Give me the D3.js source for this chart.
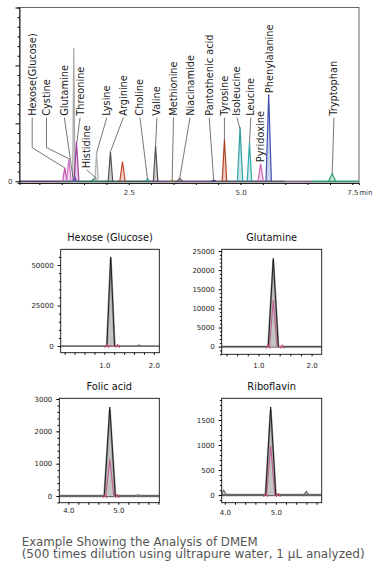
<!DOCTYPE html>
<html><head><meta charset="utf-8">
<script src="https://cdn.jsdelivr.net/npm/d3@7"></script>
<style>body{margin:0;background:#fff}svg{display:block}text{font-family:"DejaVu Sans",Verdana,sans-serif}</style>
</head><body>
<svg id="c" width="381" height="565"></svg>
<script>
// ---------- main chromatogram data ----------
const peakRT     = [1.07,1.16,1.27,1.29,1.33,1.73,1.78,2.09,2.36,2.92,3.10,3.47,3.64,4.40,4.64,4.99,5.20,5.45,5.63,7.05];
const peakHeight = [0.23,0.39,2.30,0.08,0.68,0.05,0.49,0.51,0.34,0.04,0.61,0.02,0.05,0.02,0.72,0.93,0.67,0.30,1.50,0.13];
const peakHalfW  = [0.05,0.05,0.025,0.04,0.055,0.06,0.04,0.05,0.06,0.05,0.05,0.05,0.06,0.05,0.05,0.06,0.05,0.06,0.06,0.08];
const peakColor  = ["#c050b0","#d070c8","#a8a8a8","#4050c0","#a040a0","#2a8a60","#b0b0b0","#505050","#c04830","#40a0a0",
                    "#505050","#a0a040","#606060","#404080","#b04020","#30a0a0","#30a8a8","#d060b0","#4050b0","#30a070"];
const compounds  = ["Hexose(Glucose)","Cystine","Glutamine","Threonine","Histidine","Lysine","Arginine","Choline","Valine",
                    "Methionine","Niacinamide","Pantothenic acid","Tyrosine","Isoleucine","Leucine","Pyridoxine","Phenylalanine","Tryptophan"];
// label anchor (time), label bottom (signal), elbow (signal or null), leader target [time, signal] or null
const labelT      = [0.34,0.66,1.06,1.41,1.56,2.01,2.38,2.75,3.13,3.50,3.87,4.30,4.64,4.92,5.23,5.45,5.64,7.09];
const labelBottom = [1.13,1.13,1.13,1.13,0.225,1.13,1.13,1.13,1.13,1.13,1.13,1.13,1.13,1.13,1.13,0.33,1.52,1.13];
const labelElbow  = [0.58,0.58,null,null,null,null,null,null,null,null,null,null,null,null,null,null,null,null];
const labelTarget = [[1.07,0.23],[1.16,0.39],[1.25,0.07],[1.34,0.67],[1.78,0.05],[1.78,0.49],[2.09,0.51],[2.92,0.04],[3.10,0.61],
                     [3.47,0.0],[3.64,0.05],[4.40,0.02],[4.64,0.70],[4.99,0.90],[5.20,0.66],null,null,[7.05,0.13]];
const baseStart = [0.056,1.0,2.2,3.0,4.5,6.0,6.6];
const baseColor = ["#5a3a6a","#2a6a58","#3a5a50","#6a4a7a","#505868","#7a5a80","#30a070"];
const xMajorLabels = [2.5,5.0,7.5];

// ---------- small panels data ----------
const panelTitles = ["Hexose (Glucose)","Glutamine","Folic acid","Riboflavin"];
const panelXDomain = [[0.12,2.11],[0.31,2.19],[3.82,5.82],[3.94,5.90]];
const panelYDomain = [[-4100,59700],[-2000,25450],[-207,3022],[-154,1934]];
const panelYTicks  = [[0,25000,50000],[0,5000,10000,15000,20000,25000],[0,1000,2000,3000],[0,500,1000,1500]];
const panelYMinor  = [5000,1000,200,100];
const panelXTicks  = [[1.0,2.0],[1.0,2.0],[4.0,5.0],[4.0,5.0]];
const panelRT      = [1.13,1.28,4.83,4.90];
const panelBlack   = [55000,23100,2750,1760];
const panelGray    = [53500,22400,2650,1700];
const panelPink    = [300,12200,1150,980];
const panelHW      = [0.078,0.095,0.11,0.10];
const panelPinkHW  = [0.06,0.07,0.08,0.08];
const panelMarks   = [[1.05,1.27],[1.18,1.45],[4.73,4.98],[4.80,5.05]];
const panelBumps   = [[[1.70,700]],[],[[5.40,30]],[[3.98,90],[5.60,70]]];

// ---------- layout ----------
const svg = d3.select("#c");
const x = d3.scaleLinear().domain([0.056,7.65]).range([19.5,359]);
const y = d3.scaleLinear().domain([-0.03,3.0]).range([183,7.5]);

const main = svg.append("g");
main.append("rect").attr("x",19.5).attr("y",7.5).attr("width",339.5).attr("height",175.5)
  .attr("fill","none").attr("stroke","#444").attr("stroke-width",0.8);

const line = d3.line().x(d=>x(d[0])).y(d=>y(d[1]));
// baseline
baseStart.forEach((s,i)=>{
  const e = i<baseStart.length-1 ? baseStart[i+1] : 7.65;
  main.append("path").attr("d",line([[s,0],[e,0]])).attr("stroke",baseColor[i]).attr("stroke-width",1.3).attr("fill","none");
});
// peaks
peakRT.forEach((rt,i)=>{
  main.append("path").attr("d",line([[rt-peakHalfW[i],0],[rt,peakHeight[i]],[rt+peakHalfW[i],0]]))
    .attr("stroke",peakColor[i]).attr("stroke-width",1.2).attr("fill",peakColor[i]).attr("fill-opacity",0.25)
    .attr("stroke-linejoin","miter");
});
// axes
const xa = main.append("g").attr("transform","translate(0,183)")
  .call(d3.axisBottom(x).tickValues(d3.range(1,16).map(k=>k*0.5)).tickSize(2).tickPadding(5)
    .tickFormat(d=> xMajorLabels.some(v=>Math.abs(v-d)<1e-6) ? d.toFixed(1) : ""));
xa.select(".domain").attr("stroke","#222");
xa.selectAll("text").attr("font-size",7).attr("fill","#333");
main.append("text").attr("x",x(7.5)+7).attr("y",183+7).attr("dy","0.71em").attr("font-size",7).attr("fill","#333").text("min");

const ya = main.append("g").attr("transform","translate(19.5,0)")
  .call(d3.axisLeft(y).tickValues(d3.range(0,19).map(k=>k/6)).tickSize(2).tickPadding(5)
    .tickFormat(d=> d===0 ? "0" : ""));
ya.select(".domain").attr("stroke","#222");
ya.selectAll(".tick line").attr("x2",(d,i)=> i%6===0 ? -4 : -2);
ya.selectAll("text").attr("font-size",7).attr("fill","#333");

// labels and leaders
compounds.forEach((name,i)=>{
  const lx = x(labelT[i]), ly = y(labelBottom[i]);
  main.append("text").attr("transform",`translate(${lx},${ly}) rotate(-90)`).attr("dy","0.36em")
    .attr("font-size",9.8).attr("fill","#1a1a1a").text(name);
  if(labelTarget[i]){
    const pts = [[labelT[i],labelBottom[i]-0.03]];
    if(labelElbow[i]!==null) pts.push([labelT[i],labelElbow[i]]);
    pts.push(labelTarget[i]);
    main.append("path").attr("d",line(pts)).attr("fill","none").attr("stroke","#555").attr("stroke-width",0.8);
  }
});

// ---------- small panels ----------
const panelBox = [[60.7,249.3,159.3,352.7],[221.7,249.3,321.7,354.3],[59.3,398.3,159.3,502.7],[221.7,398.3,321.7,502.7]];
const panelLabPad = [8,7,3,5];
const panelBaseW = [1.2,2,2.6,2.6];
panelTitles.forEach((title,p)=>{
  const [x0,y0,x1,y1] = panelBox[p];
  const g = svg.append("g");
  const px = d3.scaleLinear().domain(panelXDomain[p]).range([x0,x1]);
  const py = d3.scaleLinear().domain(panelYDomain[p]).range([y1,y0]);
  const pl = d3.line().x(d=>px(d[0])).y(d=>py(d[1]));
  const clipId = "clip"+p;
  g.append("clipPath").attr("id",clipId).append("rect").attr("x",x0).attr("y",y0).attr("width",x1-x0).attr("height",y1-y0);
  const plot = g.append("g").attr("clip-path",`url(#${clipId})`);
  const [xd0,xd1] = panelXDomain[p];
  // baseline
  plot.append("path").attr("d",pl([[xd0,0],[xd1,0]])).attr("stroke","#8a8a8a").attr("stroke-width",panelBaseW[p]).attr("fill","none");
  plot.append("path").attr("d",pl([[xd0,0],[xd1,0]])).attr("stroke","#222").attr("stroke-width",0.7).attr("fill","none");
  panelBumps[p].forEach(b=>{
    plot.append("path").attr("d",pl([[b[0]-0.05,0],[b[0],b[1]],[b[0]+0.05,0]])).attr("stroke","#777").attr("stroke-width",1.4).attr("fill","none");
  });
  const rt = panelRT[p];
  // gray thick
  plot.append("path").attr("d",pl([[rt-panelHW[p],0],[rt,panelGray[p]],[rt+panelHW[p],0]]))
    .attr("stroke","#999").attr("stroke-width",2.2).attr("fill","#c4c4c4").attr("stroke-linejoin","round");
  // pink
  const [m0,m1] = panelMarks[p];
  plot.append("path").attr("d",pl([[m0,0],[rt-panelPinkHW[p],0],[rt,panelPink[p]],[rt+panelPinkHW[p],0],[m1,0]]))
    .attr("stroke","#c06090").attr("stroke-width",1.1).attr("fill","none");
  // black
  plot.append("path").attr("d",pl([[rt-panelHW[p],0],[rt,panelBlack[p]],[rt+panelHW[p],0]]))
    .attr("stroke","#111").attr("stroke-width",0.9).attr("fill","none");
  // integration marks
  [m0,m1].forEach(m=>{
    const mx = px(m), my = py(0);
    plot.append("path").attr("d",`M${mx-2},${my+2}L${mx},${my-2}L${mx+2},${my+2}`).attr("stroke","#d04060").attr("stroke-width",0.9).attr("fill","none");
  });
  // frame
  g.append("rect").attr("x",x0).attr("y",y0).attr("width",x1-x0).attr("height",y1-y0)
    .attr("fill","none").attr("stroke","#111").attr("stroke-width",0.9);
  // axes
  const xTicks = d3.range(Math.ceil(xd0/0.2), Math.floor(xd1/0.2)+1).map(k=>+(k*0.2).toFixed(1));
  const xg = g.append("g").attr("transform",`translate(0,${y1})`)
    .call(d3.axisBottom(px).tickValues(xTicks).tickSize(2).tickPadding(panelLabPad[p])
      .tickFormat(d=> panelXTicks[p].some(v=>Math.abs(v-d)<1e-6) ? d.toFixed(1) : ""));
  xg.select(".domain").remove();
  xg.selectAll("text").attr("font-size",7).attr("fill","#222");
  const [yd0,yd1] = panelYDomain[p];
  const yTicks = d3.range(Math.ceil(yd0/panelYMinor[p]), Math.floor(yd1/panelYMinor[p])+1).map(k=>k*panelYMinor[p]);
  const yg = g.append("g").attr("transform",`translate(${x0},0)`)
    .call(d3.axisLeft(py).tickValues(yTicks).tickSize(2).tickPadding(5)
      .tickFormat(d=> panelYTicks[p].includes(d) ? String(d) : ""));
  yg.select(".domain").remove();
  yg.selectAll(".tick line").attr("x2",d=> panelYTicks[p].includes(d) ? -3 : -1.8);
  yg.selectAll("text").attr("font-size",7).attr("fill","#222");
  // title
  g.append("text").attr("x",(x0+x1)/2).attr("y",y0-8.6).attr("text-anchor","middle")
    .attr("font-size",9.8).attr("font-weight",500).attr("fill","#111").text(title);
});

// ---------- caption ----------
const cap = svg.append("g").attr("font-size",11.9).attr("fill","#555");
cap.append("text").attr("x",21.7).attr("y",545.5).attr("textLength",236).attr("lengthAdjust","spacingAndGlyphs")
  .text("Example Showing the Analysis of DMEM");
cap.append("text").attr("x",21.7).attr("y",558.3).attr("textLength",343).attr("lengthAdjust","spacingAndGlyphs")
  .text("(500 times dilution using ultrapure water, 1 \u00B5L analyzed)");
</script>
</body></html>
